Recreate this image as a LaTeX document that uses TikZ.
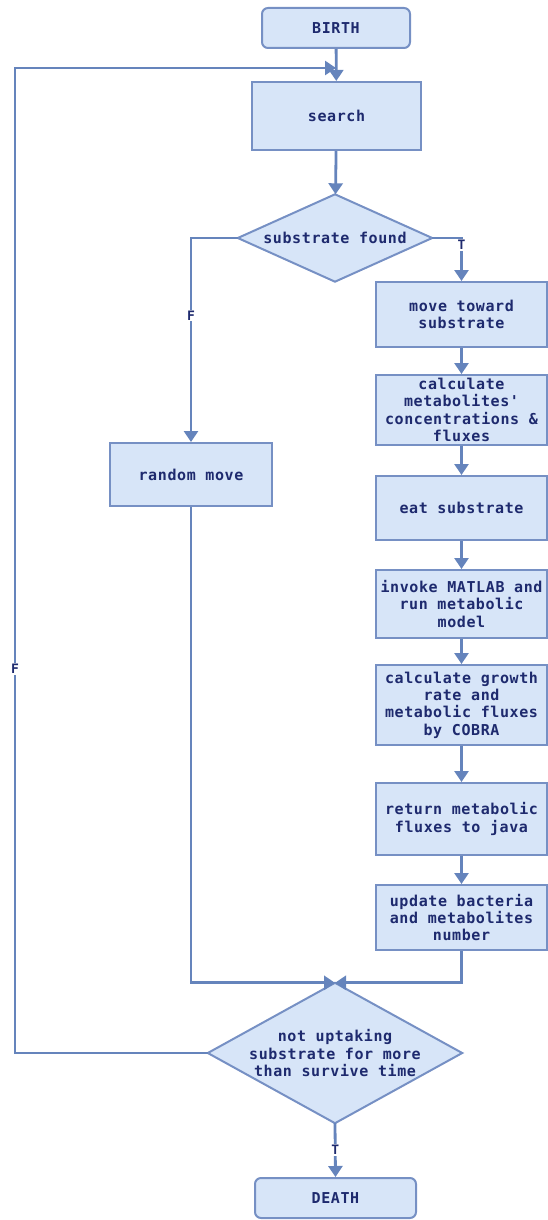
\documentclass[tikz,border=0pt]{standalone}
\usepackage{fontspec}
\newfontfamily\dmono[LetterSpace=4, BoldFont={DejaVu Sans Mono Bold}]{DejaVu Sans Mono}
\usetikzlibrary{arrows.meta,backgrounds}
\definecolor{boxfill}{HTML}{D7E5F8}
\definecolor{boxline}{HTML}{7690C4}
\definecolor{arrline}{HTML}{6584BC}
\definecolor{txt}{HTML}{1E2A6E}
\tikzset{
  base/.style={draw=boxline, line width=2pt, fill=boxfill, text=txt, align=center,
    font=\dmono\bfseries\fontsize{15}{17.4}\selectfont, inner sep=2pt},
  proc/.style={base, rectangle, minimum width=#1},
  proc/.default=171pt,
  term/.style={base, rectangle, rounded corners=6pt, minimum height=40pt},
  decision/.style={rectangle, inner sep=0pt, text=txt, align=center,
    font=\dmono\bfseries\fontsize{15}{17.4}\selectfont},
  diashape/.style={draw=boxline, line width=2pt, fill=boxfill, line join=miter},
  conn/.style={draw=arrline, line width=2.8pt},
  arr/.style={conn, -{Triangle[width=14pt,length=11pt]}},
  tf/.style={fill=white, text=txt, inner sep=1pt,
    font=\dmono\bfseries\fontsize{13}{15}\selectfont},
}
\begin{document}
\begin{tikzpicture}[x=1pt,y=-1pt]
\useasboundingbox (0,0) rectangle (548,1220);
\node[term, minimum width=148pt] (birth) at (336,28) {BIRTH};
\node[proc=169pt, minimum height=68pt] (search) at (336.5,116) {search};
\node[decision, minimum width=194pt, minimum height=87pt] (found) at (335,238) {substrate found};
\node[proc, minimum height=65pt] (move) at (461.5,314.5) {move toward\\substrate};
\node[proc, minimum height=70pt] (calc) at (461.5,410) {calculate\\metabolites'\\concentrations \&\\fluxes};
\node[proc, minimum height=64pt] (eat) at (461.5,508) {eat substrate};
\node[proc, minimum height=68pt] (invoke) at (461.5,604) {invoke MATLAB and\\run metabolic\\model};
\node[proc, minimum height=80pt] (growth) at (461.5,705) {calculate growth\\rate and\\metabolic fluxes\\by COBRA};
\node[proc, minimum height=72pt] (ret) at (461.5,819) {return metabolic\\fluxes to java};
\node[proc, minimum height=65pt] (update) at (461.5,917.5) {update bacteria\\and metabolites\\number};
\node[proc=162pt, minimum height=63pt] (random) at (191,474.5) {random move};
\node[decision, minimum width=254pt, minimum height=140pt] (uptake) at (335,1053) {not uptaking\\substrate for more\\than survive time};
\node[term, minimum width=161pt] (death) at (335.5,1198) {DEATH};
\begin{scope}[on background layer]
\draw[diashape] (found.north) -- (found.east) -- (found.south) -- (found.west) -- cycle;
\draw[diashape] (uptake.north) -- (uptake.east) -- (uptake.south) -- (uptake.west) -- cycle;
\end{scope}
\coordinate (loopc) at (15,68);
\coordinate (join) at (birth.south |- loopc);
\draw[arr] (birth) -- (search);
\draw[arr] (search) -- (found);
\draw[arr] (found.west) -| (random.north) node[tf, pos=0.69] {F};
\draw[arr] (found.east) -| (move.north) node[tf, pos=0.58] {T};
\draw[arr] (move) -- (calc);
\draw[arr] (calc) -- (eat);
\draw[arr] (eat) -- (invoke);
\draw[arr] (invoke) -- (growth);
\draw[arr] (growth) -- (ret);
\draw[arr] (ret) -- (update);
\draw[arr] (update.south) |- (uptake.north);
\draw[arr] (random.south) |- (uptake.north);
\draw[arr] (uptake.west) -| (loopc) node[tf, pos=0.695] {F} -- (join);
\draw[arr] (uptake.south) -- (death.north) node[tf, midway] {T};
\end{tikzpicture}
\end{document}
